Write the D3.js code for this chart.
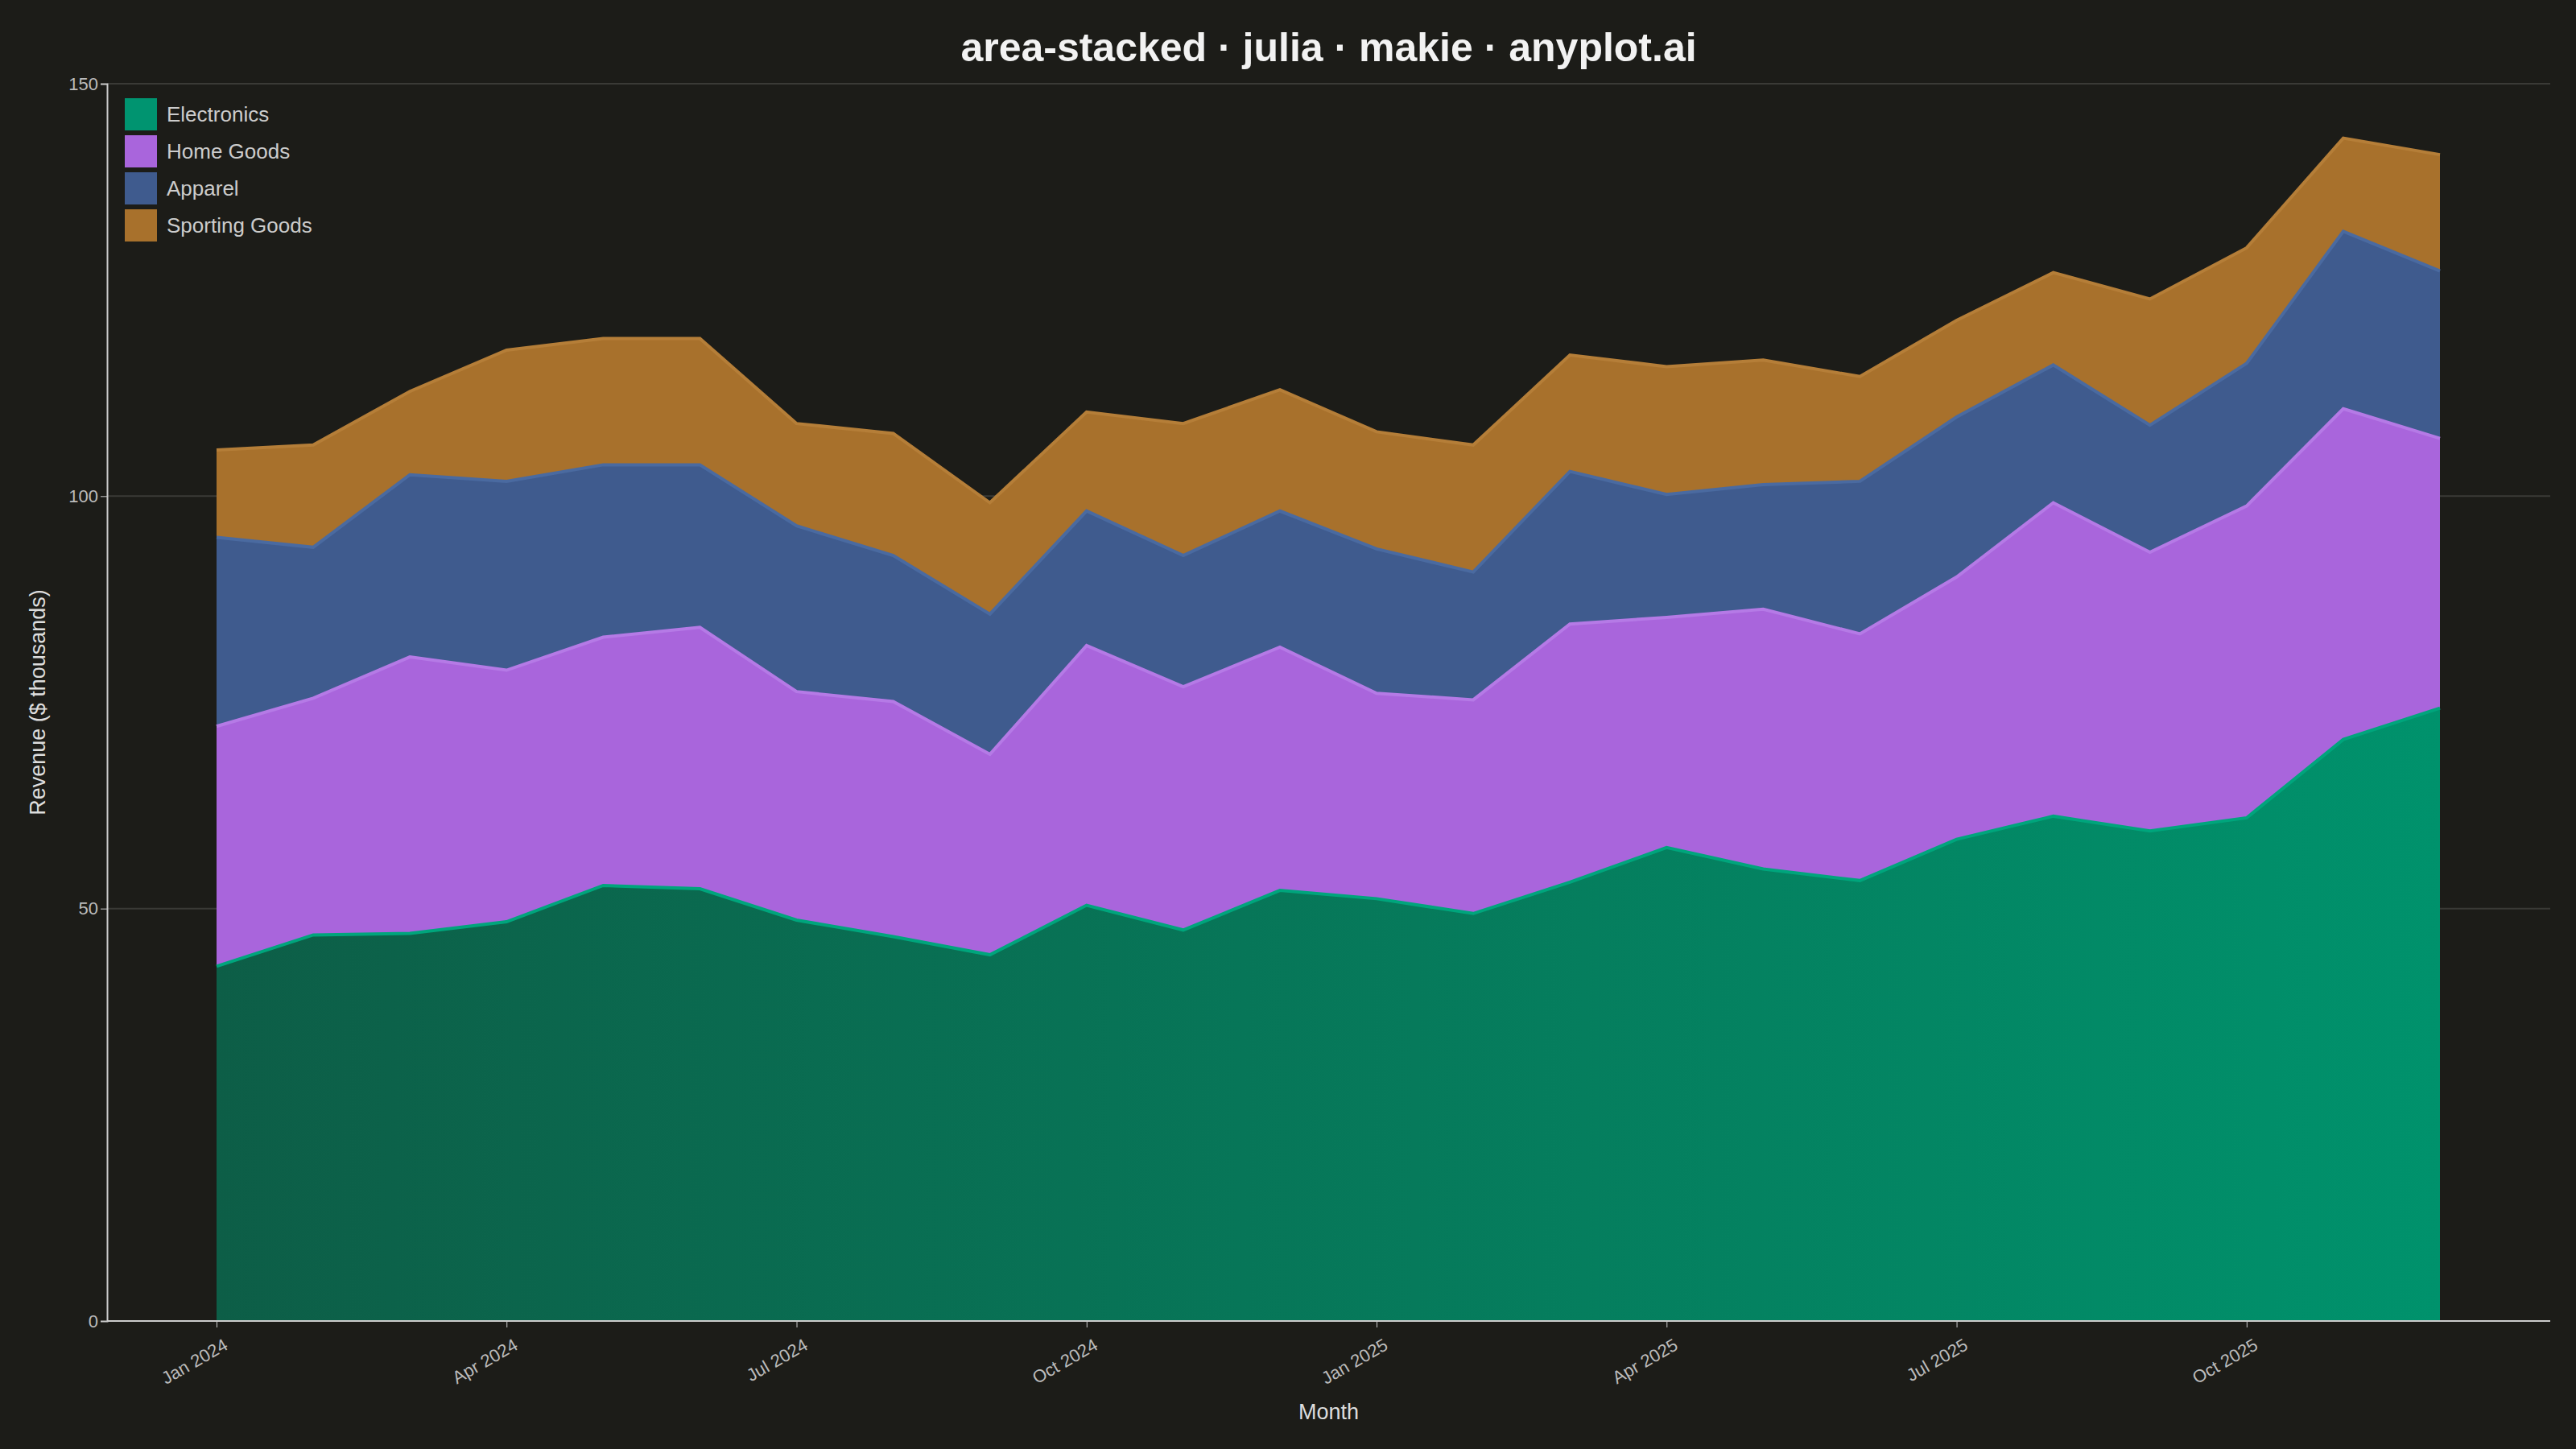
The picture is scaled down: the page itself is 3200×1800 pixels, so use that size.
<!DOCTYPE html>
<html><head><meta charset="utf-8">
<script src="https://cdn.jsdelivr.net/npm/d3@7"></script>
<style>body{margin:0;background:#1c1c18}</style>
</head><body><div id="chart"></div>
<script>
const months = ["Jan 2024","Feb 2024","Mar 2024","Apr 2024","May 2024","Jun 2024","Jul 2024","Aug 2024","Sep 2024","Oct 2024","Nov 2024","Dec 2024",
  "Jan 2025","Feb 2025","Mar 2025","Apr 2025","May 2025","Jun 2025","Jul 2025","Aug 2025","Sep 2025","Oct 2025","Nov 2025","Dec 2025"];
const electronics = [43.0,46.8,47.0,48.4,52.8,52.4,48.6,46.6,44.4,50.4,47.4,52.2,51.2,49.4,53.2,57.4,54.8,53.4,58.4,61.2,59.4,61.0,70.5,74.3];
const homeGoods = [29.1,28.7,33.5,30.5,30.1,31.7,27.7,28.5,24.3,31.5,29.5,29.5,24.9,25.9,31.3,27.9,31.5,29.9,31.8,38.0,33.8,37.8,40.1,32.7];
const apparel = [22.9,18.3,22.1,22.9,20.9,19.7,20.1,17.7,17.0,16.3,15.9,16.5,17.5,15.5,18.5,14.9,15.1,18.5,19.4,16.7,15.4,17.3,21.5,20.3];
const sporting = [10.6,12.4,10.1,15.9,15.3,15.3,12.4,14.8,13.5,12.0,16.0,14.7,14.2,15.4,14.1,15.5,15.1,12.7,11.7,11.2,15.3,14.0,11.3,14.1];
const seriesNames = ["Electronics","Home Goods","Apparel","Sporting Goods"];
const colors = ["#009470","#a965dc","#3f5b8e","#a8712c"];
const strokes = ["#00a57c","#b57ae6","#4a6aa0","#b57e38"];
const yTicks = [0,50,100,150];
const xTickIdx = [0,3,6,9,12,15,18,21];

const W = 3200, H = 1800;
const mLeft = 133, mRight = 3168, mTop = 104, mBottom = 1641;
const rows = months.map((m,i)=>({i, "Electronics":electronics[i], "Home Goods":homeGoods[i], "Apparel":apparel[i], "Sporting Goods":sporting[i]}));
const stacked = d3.stack().keys(seriesNames)(rows);

const svg = d3.select("#chart").append("svg").attr("width",W).attr("height",H).style("background","#1c1c18");
const x = d3.scaleLinear().domain([0,23]).range([269,3031]);
const y = d3.scaleLinear().domain([0,150]).range([mBottom,mTop]);

const defs = svg.append("defs");
const g = defs.append("linearGradient").attr("id","eg").attr("x1","0").attr("x2","1").attr("y1","0").attr("y2","0");
g.append("stop").attr("offset","0").attr("stop-color","#0d5e47");
g.append("stop").attr("offset","1").attr("stop-color","#00926c");

svg.append("g").selectAll("line").data(yTicks.slice(1)).join("line")
  .attr("x1",mLeft).attr("x2",mRight).attr("y1",d=>y(d)).attr("y2",d=>y(d))
  .attr("stroke","#3a3a36").attr("stroke-width",2);

const area = d3.area().x(d=>x(d.data.i)).y0(d=>y(d[0])).y1(d=>y(d[1]));
const line = d3.line().x(d=>x(d.data.i)).y(d=>y(d[1]));
svg.append("g").selectAll("path").data(stacked).join("path")
  .attr("d",area).attr("fill",(d,i)=>i===0?"url(#eg)":colors[i]);
svg.append("g").selectAll("path").data(stacked).join("path")
  .attr("d",line).attr("fill","none").attr("stroke",(d,i)=>strokes[i]).attr("stroke-width",4);

const ax = svg.append("g").attr("transform",`translate(0,${mBottom})`)
  .call(d3.axisBottom(x).tickValues(xTickIdx).tickFormat(i=>months[i]).tickSize(8));
ax.select(".domain").attr("d",`M${mLeft},0H${mRight}`).attr("stroke","#cccccc").attr("stroke-width",2);
ax.selectAll(".tick line").attr("stroke","#cccccc");
ax.selectAll("text").attr("fill","#bbbbbb").style("font","22px 'Liberation Sans', Arial")
  .attr("text-anchor","end").attr("transform","rotate(-30)").attr("dx","-4").attr("dy","26");
const ay = svg.append("g").attr("transform",`translate(${mLeft},0)`)
  .call(d3.axisLeft(y).tickValues(yTicks).tickSize(8));
ay.select(".domain").attr("stroke","#cccccc").attr("stroke-width",2);
ay.selectAll(".tick line").attr("stroke","#cccccc");
ay.selectAll("text").attr("fill","#bbbbbb").style("font","22px 'Liberation Sans', Arial");

svg.append("text").attr("x",(mLeft+mRight)/2).attr("y",1763).attr("text-anchor","middle")
  .attr("fill","#dddddd").style("font","27px 'Liberation Sans', Arial").text("Month");
svg.append("text").attr("transform",`translate(56,${(mTop+mBottom)/2}) rotate(-90)`).attr("text-anchor","middle")
  .attr("fill","#dddddd").style("font","27px 'Liberation Sans', Arial").text("Revenue ($ thousands)");
svg.append("text").attr("x",(mLeft+mRight)/2).attr("y",76).attr("text-anchor","middle")
  .attr("fill","#f2f2f2").style("font","bold 50px 'Liberation Sans', Arial").text("area-stacked · julia · makie · anyplot.ai");

const leg = svg.append("g").selectAll("g").data(seriesNames).join("g")
  .attr("transform",(d,i)=>`translate(155,${122+i*46})`);
leg.append("rect").attr("width",40).attr("height",40).attr("fill",(d,i)=>colors[i]);
leg.append("text").attr("x",52).attr("y",29).attr("fill","#cccccc")
  .style("font","26px 'Liberation Sans', Arial").text(d=>d);
</script></body></html>
